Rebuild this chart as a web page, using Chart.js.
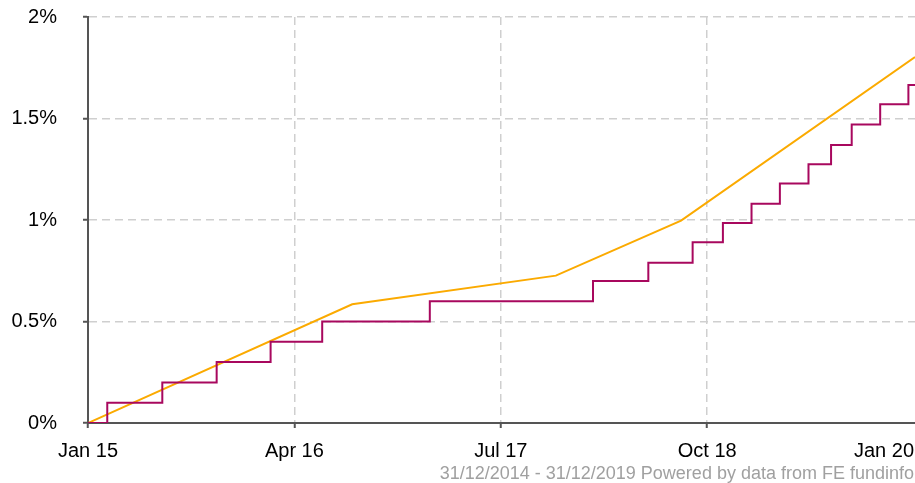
<!DOCTYPE html>
<html>
<head>
<meta charset="utf-8">
<script src="https://cdn.jsdelivr.net/npm/chart.js@4.4.0/dist/chart.umd.min.js"></script>
<style>
  html, body { margin: 0; padding: 0; background: #fff; }
  .wrap { position: relative; width: 915px; height: 483px; }
  .source {
    position: absolute; right: 1px; top: 463px;
    font-family: "Liberation Sans", Arial, sans-serif; font-size: 18px; color: #a0a0a0;
    white-space: nowrap;
  }
</style>
</head>
<body>
<div class="wrap">
  <canvas id="myChart" width="915" height="483"></canvas>
  <div class="source">31/12/2014 - 31/12/2019 Powered by data from FE fundinfo</div>
</div>
<script>
// months counted from 31/12/2014
const tickMonths = [0, 15, 30, 45, 60]
const tickLabels = ['Jan 15', 'Apr 16', 'Jul 17', 'Oct 18', 'Jan 20']

// stepped series (purple)
const fundMonths = [0, 1.4, 5.4, 9.35, 13.27, 17.02, 24.84, 36.7, 40.72, 43.94, 46.14, 48.22, 50.28, 52.36, 54.0, 55.5, 57.57, 59.62, 60.1]
const fundValues = [0, 0.1, 0.2, 0.3, 0.4, 0.5, 0.6, 0.7, 0.79, 0.89, 0.985, 1.08, 1.18, 1.275, 1.37, 1.47, 1.57, 1.665, 1.665]

// comparison series (orange)
const benchMonths = [0, 19.2, 34.0, 43.1, 60.1]
const benchValues = [0, 0.585, 0.726, 0.997, 1.803]

const tickFont = { family: '"Liberation Sans", Arial, sans-serif', size: 20 }
const xPad = 11

const toPoints = (xs, ys) => xs.map((x, i) => ({ x: x, y: ys[i] }))

// last x label is pushed inside the canvas instead of centred on its tick
const lastLabel = {
  id: 'lastLabel',
  afterDraw(chart) {
    const xScale = chart.scales.x
    const ctx = chart.ctx
    const text = tickLabels[tickLabels.length - 1]
    ctx.save()
    ctx.font = tickFont.size + 'px ' + tickFont.family
    ctx.fillStyle = '#000'
    ctx.textBaseline = 'middle'
    ctx.textAlign = 'right'
    const px = xScale.getPixelForValue(tickMonths[tickMonths.length - 1])
    const w = ctx.measureText(text).width
    const right = Math.min(px + w / 2, chart.width - 1)
    ctx.fillText(text, right, xScale.top + 5 + xPad + tickFont.size * 0.6)
    ctx.restore()
  }
}

let firstChart = document.getElementById('myChart').getContext('2d')

let lineChart = new Chart(firstChart, {
  type: 'line',
  data: {
    datasets: [{
      label: 'Fund',
      data: toPoints(fundMonths, fundValues),
      stepped: true,
      borderColor: '#a8085e',
      borderWidth: 2,
      pointRadius: 0,
      fill: false
    }, {
      label: 'Sector',
      data: toPoints(benchMonths, benchValues),
      borderColor: '#fbaa00',
      borderWidth: 2,
      pointRadius: 0,
      tension: 0,
      fill: false
    }]
  },
  options: {
    responsive: false,
    animation: false,
    layout: { padding: { top: 17, right: 0, left: 0, bottom: 0 } },
    plugins: {
      legend: { display: false },
      tooltip: { enabled: false }
    },
    scales: {
      x: {
        type: 'linear',
        min: 0,
        max: 60.1,
        afterFit: scale => {
          scale.height = 60
          scale.paddingLeft = 0
          scale.paddingRight = 0
        },
        afterBuildTicks: scale => { scale.ticks = tickMonths.map(v => ({ value: v })) },
        ticks: {
          font: tickFont,
          color: '#000',
          padding: xPad,
          maxRotation: 0,
          autoSkip: false,
          callback: v => {
            const i = tickMonths.indexOf(v)
            return i < 0 || i === tickMonths.length - 1 ? '' : tickLabels[i]
          }
        },
        grid: {
          color: c => (c.tick && c.tick.value === 60) ? 'rgba(0,0,0,0)' : '#cfcfcf',
          lineWidth: 1.5,
          tickColor: c => (c.tick && c.tick.value === 60) ? 'rgba(0,0,0,0)' : '#555',
          tickWidth: 2,
          tickLength: 5,
          tickBorderDash: []
        },
        border: { display: true, color: '#555', width: 2, dash: [8, 5] }
      },
      y: {
        min: 0,
        max: 2,
        afterFit: scale => {
          scale.width = 88
          scale.paddingTop = 0
          scale.paddingBottom = 0
        },
        ticks: {
          stepSize: 0.5,
          font: tickFont,
          color: '#000',
          padding: 26,
          callback: v => v + '%'
        },
        grid: {
          color: '#cfcfcf',
          lineWidth: 1.5,
          tickColor: '#555',
          tickWidth: 2,
          tickLength: 5,
          tickBorderDash: []
        },
        border: { display: true, color: '#555', width: 2, dash: [8, 5] }
      }
    }
  },
  plugins: [lastLabel]
})
</script>
</body>
</html>
